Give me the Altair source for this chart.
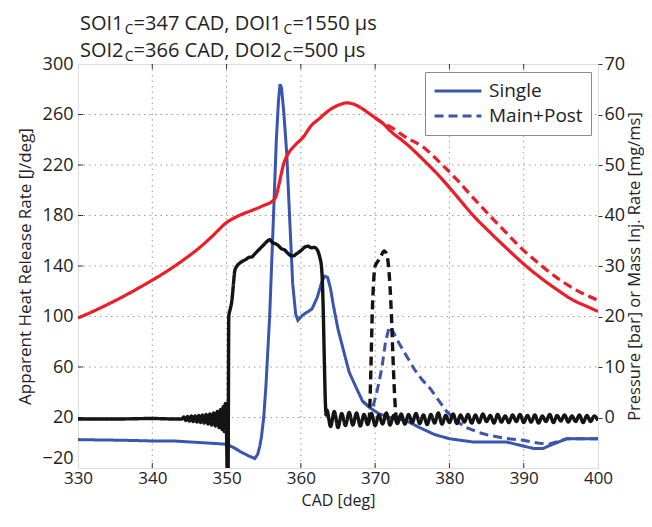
import altair as alt
import pandas as pd

# ---------------- data ----------------
# Apparent heat release rate [J/deg] (left axis)
ahrr_single_cad = [330, 333, 336, 340, 343, 346, 349, 350, 351, 352, 353, 353.8, 354.2, 354.5, 354.7,
                   355.0, 355.3, 355.8, 356.3, 356.7, 357.0, 357.2, 357.4, 357.7, 358.1, 358.5, 358.9,
                   359.3, 359.6, 360.2, 361.0, 361.5, 362.2, 362.8, 363.2, 363.6, 364.0, 364.4, 365.0,
                   365.7, 366.5, 367.5, 368.3, 369.3, 370.5, 372.0, 374.2, 376.0, 378.0, 380.0, 383.2,
                   387.7, 389.5, 391.3, 392.6, 394.0, 395.8, 400]
ahrr_single_val = [2.5, 2.2, 2.0, 1.4, 1.4, 0.3, -0.8, -1.2, -4, -7.5, -10.5, -12.5, -9, -2, 5,
                   20, 45, 100, 177, 240, 272, 284, 281, 262, 229, 177, 126,
                   102, 97, 101, 104, 106, 115, 127, 132, 131, 122, 108, 90,
                   74, 56, 43, 33, 27.7, 23, 20, 17.4, 12, 6.5, 3.2, 0.6,
                   0.6, -2, -4.5, -4.5, -1, 3.2, 3.2]
ahrr_post_cad = [368.3, 369.3, 369.7, 370.3, 370.9, 371.4, 371.9, 372.4, 373.2, 374.2, 375.3, 376.3,
                 377.4, 378.5, 379.6, 381.0, 382.3, 384.0, 385.4, 387.5, 389.9, 392.2, 393.5, 394.4,
                 395.8, 400]
ahrr_post_val = [33, 27.7, 28, 42, 59, 80, 92, 88, 79, 69, 58, 50,
                 43, 34, 25, 17, 12, 8, 5.8, 3.5, 1.9, -0.5, -1, 0.6,
                 3.2, 3.2]

# Cylinder pressure [bar] (right axis)
p_single_cad = [330, 332, 334, 336, 338, 340, 342, 344, 346, 348, 350, 351, 352, 353.4, 355,
                356.3, 356.7, 357.0, 357.4, 357.7, 358.2, 359.2, 360.3, 361.4, 362.5, 363.5, 364.3,
                365.3, 366.2, 367, 368, 369, 370, 371, 372, 374.2, 376.5, 378.7, 381, 383.2, 385.5,
                387.7, 390, 392.2, 394.5, 396.7, 398.5, 400]
p_single_val = [19.7, 21.0, 22.4, 23.9, 25.5, 27.2, 29.0, 31.0, 33.2, 35.8, 38.6, 39.5, 40.2, 41.0, 42.0,
                43.0, 44.0, 45.8, 48.5, 50.3, 52.0, 53.9, 55.5, 57.8, 59.2, 60.5, 61.3,
                62.0, 62.3, 62.1, 61.4, 60.4, 59.35, 58.3, 56.8, 54.2, 51.0, 47.7, 43.8, 40.0, 36.6,
                33.5, 30.4, 27.75, 25.3, 23.2, 22.0, 21.0]
p_post_cad = [370, 371, 372, 374, 376.5, 378.7, 381, 383.2, 385.4, 387.7, 389.9, 392.2, 394.4, 397, 400]
p_post_val = [59.35, 58.3, 57.6, 55.6, 53.5, 50.5, 47.1, 43.5, 40.0, 36.5, 33.2, 30.3, 27.75, 25.3, 23.2]

# Mass injection rate [mg/ms] (right axis)
inj_single_cad = [330, 335, 340, 343,
                  344.0, 344.25, 344.5, 344.75, 345.0, 345.25, 345.5, 345.75, 346.0, 346.25, 346.5, 346.75,
                  347.0, 347.25, 347.5, 347.75, 348.0, 348.25, 348.5, 348.75, 349.0, 349.2, 349.4, 349.55,
                  349.7, 349.85, 350.0, 350.1, 350.2, 350.3, 350.5, 350.7, 350.9, 351.1, 351.4, 351.8,
                  352.2, 352.6, 353.0, 353.4, 353.8, 354.2, 354.6, 355.0, 355.4, 355.8, 356.2, 356.6,
                  357.0, 357.4, 357.8, 358.2, 358.6, 359.0, 359.4, 359.8, 360.2, 360.6, 361.0, 361.4,
                  361.8, 362.2, 362.5, 362.8, 363.0, 363.15, 363.3, 363.4,
                  363.5, 364, 364.5, 365, 365.5, 366, 366.5, 367, 367.5, 368, 368.5, 369, 369.5, 370,
                  370.5, 371, 371.5, 372, 372.5, 373, 373.5, 374, 374.5, 375, 375.5, 376, 376.5, 377,
                  377.5, 378, 378.5, 379, 379.5, 380, 380.5, 381, 381.5, 382, 382.5, 383, 383.5, 384,
                  384.5, 385, 385.5, 386, 386.5, 387, 387.5, 388, 388.5, 389, 389.5, 390, 390.5, 391,
                  391.5, 392, 392.5, 393, 393.5, 394, 394.5, 395, 395.5, 396, 396.5, 397, 397.5, 398,
                  398.5, 399, 399.5, 400]
inj_single_val = [-0.3, -0.3, -0.2, -0.3,
                  -0.3, 0.1, -0.6, 0.2, -0.7, 0.3, -0.8, 0.3, -0.9, 0.4, -1.0, 0.5,
                  -1.1, 0.6, -1.3, 0.7, -1.5, 0.9, -1.7, 1.2, -2.0, 1.6, -2.4, 2.2,
                  -2.8, 2.8, -3.3, -12, -12, 20, 21.5, 23, 26, 29, 30, 30.6,
                  31, 31.3, 31.7, 31.8, 32.4, 33, 33.6, 34.2, 34.8, 35.2, 34.6, 34.4,
                  34.0, 33.4, 33.2, 32.6, 32.1, 32.0, 32.4, 32.8, 33.3, 33.8, 33.9, 33.6,
                  33.7, 33.2, 32.0, 29.5, 22, 12, 3, 0.5,
                  1.5, -1.8, 1.2, -2.0, 0.8, -1.6, 1.0, -1.5, 0.9, -1.7, 0.6, -1.4, 0.8, -1.6,
                  0.5, -1.3, 0.9, -1.5, 0.4, -1.2, 0.7, -1.3, 0.6, -1.0, 0.8, -1.2, 0.5, -1.4,
                  0.6, -1.1, 0.9, -1.3, 0.4, -1.0, 0.7, -1.2, 0.5, -0.9, 0.6, -1.1, 0.5, -1.0,
                  0.7, -0.8, 0.4, -1.1, 0.6, -0.9, 0.3, -1.0, 0.5, -0.8, 0.6, -1.0, 0.4, -0.9,
                  0.5, -1.1, 0.3, -0.8, 0.6, -1.0, 0.4, -0.7, 0.5, -0.9, 0.3, -0.8, 0.5, -1.0,
                  0.4, -0.8, 0.3, -0.6]
inj_post_cad = [368.8, 369.2, 369.4, 369.6, 369.8, 370.0, 370.4, 370.8, 371.2, 371.5, 371.8, 372.0,
                372.2, 372.4, 372.6, 372.8, 373.0]
inj_post_val = [-0.5, 0, 8, 20, 27, 30, 31, 32, 33, 32.5, 30, 26,
                20, 12, 5, 0.5, -0.5]

cases = ["Single", "Main+Post"]
x_ticks = [330, 340, 350, 360, 370, 380, 390, 400]
left_ticks = [-20, 20, 60, 100, 140, 180, 220, 260, 300]
right_ticks = [0, 10, 20, 30, 40, 50, 60, 70]
title_lines = [["SOI1", "C", "=347 CAD, DOI1", "C", "=1550 µs"],
               ["SOI2", "C", "=366 CAD, DOI2", "C", "=500 µs"]]

# ---------------- styling ----------------
FONT = "Open Sans"
BLUE = "#3a55b0"
RED = "#ee1c25"
BLACK = "#141414"
W, H = 520, 404
tick_color = "#333"
GRID = "#9a9a9a"


def frame(cad, val, case):
    return pd.DataFrame({"cad": cad, "val": val, "case": case})


df_ahrr = pd.concat([frame(ahrr_single_cad, ahrr_single_val, cases[0]),
                     frame(ahrr_post_cad, ahrr_post_val, cases[1])])
df_p = pd.concat([frame(p_single_cad, p_single_val, cases[0]),
                  frame(p_post_cad, p_post_val, cases[1])])
df_inj = pd.concat([frame(inj_single_cad, inj_single_val, cases[0]),
                    frame(inj_post_cad, inj_post_val, cases[1])])

x_scale = alt.Scale(domain=[330, 400], nice=False, zero=False)
left_scale = alt.Scale(domain=[-20, 300], nice=False, zero=False)
right_scale = alt.Scale(domain=[-10, 70], nice=False, zero=False)
dash_scale = alt.Scale(domain=cases, range=[[1, 0], [9, 5]])

x_axis = alt.Axis(values=x_ticks, title="CAD [deg]", grid=False, tickSize=0, domain=False,
                  labelPadding=2, labelFlush=False,
                  labelFontSize=17, labelColor="#222", labelFont=FONT,
                  titleFontSize=16, titleFont=FONT, titleColor="#222",
                  titleFontWeight="normal", titlePadding=6, format="d")
left_axis = alt.Axis(values=left_ticks, orient="left",
                     title="Apparent Heat Release Rate [J/deg]", grid=False,
                     tickSize=0, domain=False, labelFlush=False,
                     labelOffset={"expr": "datum.value == -20 ? -10 : 0"},
                     labelPadding=5, labelFontSize=18, labelColor="#222", labelFont=FONT,
                     titleFontSize=17, titleFont=FONT, titleColor="#222",
                     titleFontWeight="normal", titlePadding=8, format="d")
right_axis = alt.Axis(values=right_ticks, orient="right",
                      title="Pressure [bar] or Mass Inj. Rate [mg/ms]", grid=False,
                      tickSize=4, tickColor=tick_color, domain=False, labelPadding=2,
                      labelFlush=False,
                      labelFontSize=18, labelColor="#222", labelFont=FONT,
                      titleFontSize=16.5, titleFont=FONT, titleColor="#222",
                      titleFontWeight="normal", titlePadding=2, titleAngle=270,
                      titleBaseline="top", format="d")

x_enc = alt.X("cad:Q", scale=x_scale, axis=x_axis)
yl_enc = alt.Y("val:Q", scale=left_scale, axis=left_axis)

# dotted grid lines at the interior tick positions
df_xt = pd.DataFrame({"cad": x_ticks[1:-1]})
df_yt = pd.DataFrame({"val": left_ticks[1:-1]})
x_grid = alt.Chart(df_xt).mark_rule(color=GRID, strokeWidth=1, strokeDash=[1.5, 4]).encode(
    x=x_enc, y=alt.value(0), y2=alt.value(H))
y_grid = alt.Chart(df_yt).mark_rule(color=GRID, strokeWidth=1, strokeDash=[1.5, 4]).encode(
    y=yl_enc, x=alt.value(0), x2=alt.value(W))

blue = alt.Chart(df_ahrr).mark_line(color=BLUE, strokeWidth=3, clip=True).encode(
    x=x_enc,
    y=yl_enc,
    strokeDash=alt.StrokeDash("case:N", scale=dash_scale, sort=cases,
                              legend=alt.Legend(orient="none", legendX=347, legendY=8, title=None,
                                                symbolType="stroke", symbolSize=2200,
                                                symbolStrokeWidth=3, symbolStrokeColor=BLUE,
                                                labelFontSize=19, labelFont=FONT, labelColor="#222",
                                                strokeColor="#8a8a8a", fillColor="white",
                                                padding=8, rowPadding=3, clipHeight=22,
                                                labelOffset=6)),
)

# inward tick marks (MATLAB style)
xt_bottom = alt.Chart(df_xt).mark_rule(color=tick_color, strokeWidth=1).encode(
    x=x_enc, y=alt.value(H - 5), y2=alt.value(H))
xt_top = alt.Chart(df_xt).mark_rule(color=tick_color, strokeWidth=1).encode(
    x=x_enc, y=alt.value(0), y2=alt.value(5))
yt_left = alt.Chart(df_yt).mark_rule(color=tick_color, strokeWidth=1).encode(
    y=yl_enc, x=alt.value(0), x2=alt.value(5))

# title with subscripts, built from text pieces
title_layers = []
piece_x = [[2, 46.7, 55.6, 205.6, 214.5], [2, 46.7, 55.6, 205.6, 214.5]]
line_y = [-34, -7]
for li, line in enumerate(title_lines):
    for pi, piece in enumerate(line):
        sub = (pi % 2 == 1)
        title_layers.append(
            alt.Chart(pd.DataFrame({"t": [piece]})).mark_text(
                align="left", baseline="alphabetic", font=FONT,
                fontSize=14 if sub else 20, color="#222").encode(
                text="t:N", x=alt.value(piece_x[li][pi]),
                y=alt.value(line_y[li] + (4 if sub else 0))))

red = alt.Chart(df_p).mark_line(color=RED, strokeWidth=3.2, clip=True,
                                interpolate="monotone").encode(
    x=x_enc,
    y=alt.Y("val:Q", scale=right_scale, axis=right_axis),
    strokeDash=alt.StrokeDash("case:N", scale=dash_scale, sort=cases, legend=None),
)
black = alt.Chart(df_inj).mark_line(color=BLACK, strokeWidth=3.4, clip=True,
                                    interpolate="monotone").encode(
    x=x_enc,
    y=alt.Y("val:Q", scale=right_scale, axis=right_axis),
    strokeDash=alt.StrokeDash("case:N", scale=dash_scale, sort=cases, legend=None),
)

left = alt.layer(x_grid, y_grid, blue, xt_bottom, xt_top, yt_left, *title_layers)
right = alt.layer(red, black)

chart = alt.layer(left, right).resolve_scale(y="independent").properties(
    width=W, height=H,
    padding={"left": 70, "top": 56, "right": 46, "bottom": 47},
    autosize=alt.AutoSizeParams(type="none"),
).configure_view(stroke="#333", strokeWidth=1.5).configure(background="white")

chart.save("out.html", embed_options={"renderer": "svg", "actions": False})
